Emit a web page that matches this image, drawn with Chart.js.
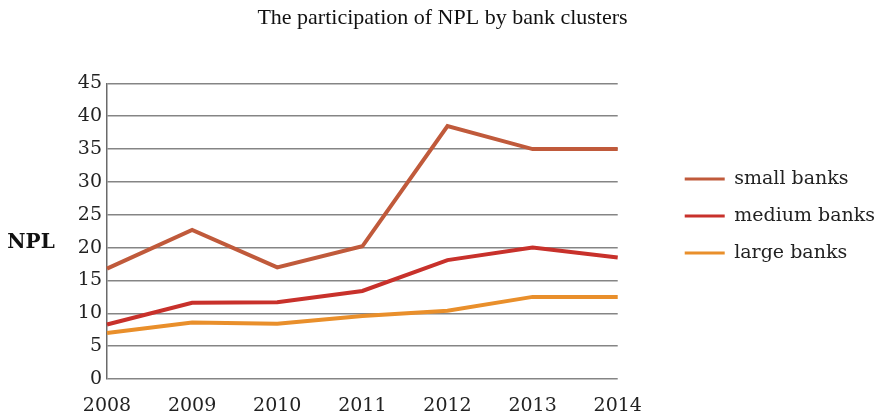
<!DOCTYPE html>
<html>
<head>
<meta charset="utf-8">
<title>The participation of NPL by bank clusters</title>
<script src="https://cdn.jsdelivr.net/npm/chart.js@4/dist/chart.umd.min.js"></script>
<style>
  html, body { margin: 0; padding: 0; background: #fff; }
  #wrap { width: 885px; height: 411px; }
</style>
</head>
<body>
<div id="wrap"><canvas id="npl-chart" width="885" height="411"></canvas></div>
<script>
// values
const years = ['2008', '2009', '2010', '2011', '2012', '2013', '2014'];
const smallBanks = [16.8, 22.7, 17.0, 20.2, 38.5, 35.0, 35.0];
const mediumBanks = [8.3, 11.6, 11.7, 13.4, 18.1, 20.0, 18.5];
const largeBanks = [7.0, 8.6, 8.4, 9.6, 10.4, 12.5, 12.5];
const yTicks = [0, 5, 10, 15, 20, 25, 30, 35, 40, 45];

const serif = "'DejaVu Serif', serif";

// horizontal "NPL" label left of the axis (Chart.js only rotates y titles)
const nplLabel = {
    id: 'nplLabel',
    afterDraw(chart) {
        const ctx = chart.ctx;
        ctx.save();
        ctx.font = "bold 20px " + serif;
        ctx.fillStyle = '#111';
        ctx.textAlign = 'center';
        ctx.textBaseline = 'middle';
        ctx.fillText('NPL', 31, 243);
        ctx.restore();
    }
};

function makeSeries(label, data, color) {
    return {
        label: label,
        data: data,
        borderColor: color,
        backgroundColor: color,
        borderWidth: 4,
        pointRadius: 0,
        tension: 0
    };
}

const ctx = document.getElementById('npl-chart').getContext('2d');
const nplChart = new Chart(ctx, {
    type: 'line',
    data: {
        labels: years,
        datasets: [
            makeSeries('small banks', smallBanks, '#c05a3b'),
            makeSeries('medium banks', mediumBanks, '#c8312b'),
            makeSeries('large banks', largeBanks, '#e98f2b')
        ]
    },
    options: {
        responsive: false,
        animation: false,
        layout: { padding: { top: 21, left: 0, right: 0, bottom: 0 } },
        plugins: {
            title: {
                display: true,
                text: 'The participation of NPL by bank clusters',
                color: '#111',
                font: { family: "'Liberation Serif', serif", size: 22, weight: 'normal' },
                padding: { top: -16, bottom: 52 }
            },
            legend: {
                position: 'right',
                maxWidth: 260,
                labels: {
                    color: '#222',
                    font: { family: serif, size: 19 },
                    boxWidth: 40,
                    boxHeight: 3,
                    padding: 18,
                    generateLabels(chart) {
                        const items = Chart.defaults.plugins.legend.labels.generateLabels(chart);
                        items.forEach(i => { i.lineWidth = 0; i.fillStyle = i.strokeStyle; });
                        return items;
                    }
                }
            },
            tooltip: { enabled: false }
        },
        scales: {
            x: {
                grid: { display: false },
                border: { display: false },
                ticks: {
                    color: '#222',
                    font: { family: serif, size: 19 },
                    padding: 8,
                    maxRotation: 0,
                    autoSkip: false
                },
                afterFit(scale) { scale.height = 32; }
            },
            y: {
                min: 0,
                max: 45,
                afterBuildTicks(scale) { scale.ticks = yTicks.map(v => ({ value: v })); },
                grid: { color: '#858585', lineWidth: 1.5, drawTicks: false },
                border: { display: true, color: '#6a6a6a', width: 1.5 },
                ticks: {
                    color: '#222',
                    font: { family: serif, size: 19 },
                    padding: 5
                },
                afterFit(scale) { scale.width = 107; }
            },
            // empty spacer axis: keeps the legend away from the plot
            gap: {
                type: 'linear',
                position: 'right',
                display: true,
                grid: { display: false },
                border: { display: false },
                ticks: { display: false },
                afterFit(scale) { scale.width = 49; }
            }
        }
    },
    plugins: [nplLabel]
});
</script>
</body>
</html>
